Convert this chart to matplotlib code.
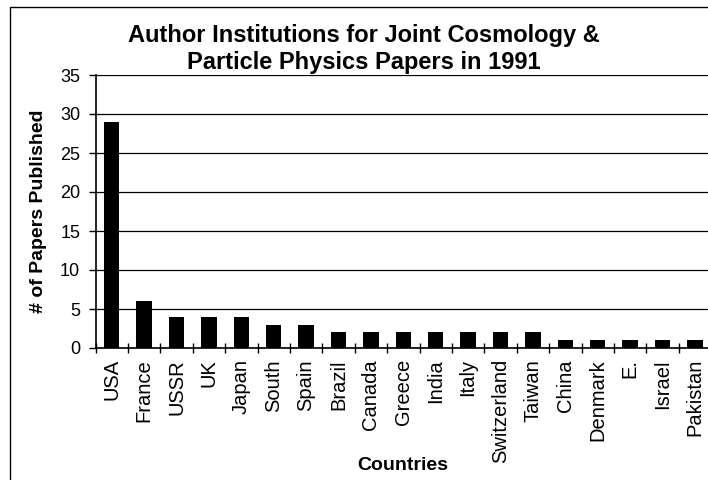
import numpy as np
import matplotlib
matplotlib.use("Agg")
import matplotlib.pyplot as plt
from matplotlib.patches import Rectangle

countries = ["USA", "France", "USSR", "UK", "Japan", "South", "Spain", "Brazil",
             "Canada", "Greece", "India", "Italy", "Switzerland", "Taiwan",
             "China", "Denmark", "E.", "Israel", "Pakistan"]
papers = [29, 6, 4, 4, 4, 3, 3, 2, 2, 2, 2, 2, 2, 2, 1, 1, 1, 1, 1]

plt.rcParams['font.family'] = ['Liberation Sans', 'DejaVu Sans']

fig = plt.figure(figsize=(7.08, 4.8), dpi=100)
# axes run off the right edge of the figure, like the original page crop
ax = fig.add_axes([95.5 / 708, 132 / 480, 615.6 / 708, 273 / 480])

x = np.arange(len(countries))
ax.bar(x, papers, width=0.48, color='black', zorder=3)

ax.set_xlim(-0.5, len(countries) - 0.5)
ax.set_ylim(0, 35)
ax.set_yticks(np.arange(0, 36, 5))
ax.yaxis.grid(True, color='black', linewidth=0.9)
ax.set_axisbelow(True)

# category ticks sit between the bars
ax.set_xticks(x)
ax.set_xticklabels(countries, rotation=90, fontsize=14.5)
ax.set_xticks(np.arange(-0.5, len(countries), 1), minor=True)
ax.tick_params(axis='x', which='major', length=0, pad=8)
ax.tick_params(axis='x', which='minor', direction='inout', length=7, width=1)
ax.tick_params(axis='y', direction='out', length=5, width=1, labelsize=13, pad=6)

for side in ['top', 'right']:
    ax.spines[side].set_visible(False)
ax.spines['left'].set_linewidth(1.2)
ax.spines['bottom'].set_linewidth(1.2)

ax.set_ylabel('# of Papers Published', fontsize=14, fontweight='bold', va='center')
ax.yaxis.set_label_coords(-(95.5 - 39) / 615.6, 0.5)
ax.set_xlabel('Countries', fontsize=14, fontweight='bold')
ax.xaxis.set_label_coords((403 - 95.5) / 615.6, -(465 - 348) / 273)
ax.xaxis.label.set_va('center')

fig.text(364 / 708, 1 - 49 / 480, 'Author Institutions for Joint Cosmology &\nParticle Physics Papers in 1991',
         ha='center', va='center', fontsize=17, fontweight='bold', linespacing=1.2)

# chart border
fig.patches.append(Rectangle((10 / 708, -0.1), 1.2, 1 - 7 / 480 + 0.1,
                             transform=fig.transFigure, fill=False,
                             edgecolor='black', linewidth=1))

fig.savefig('out.png', dpi=100)
